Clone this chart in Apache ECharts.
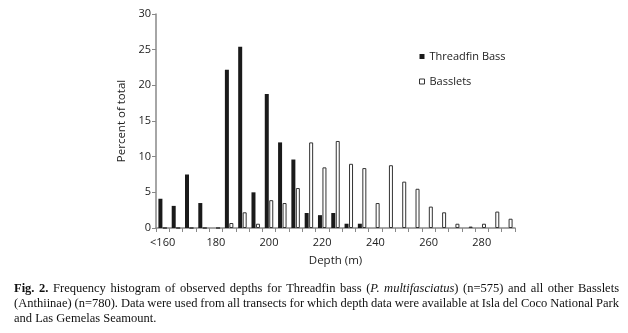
<!DOCTYPE html>
<html>
<head>
<meta charset="utf-8">
<title>Fig. 2 depth histogram</title>
<script src="https://cdn.jsdelivr.net/npm/echarts@6/dist/echarts.min.js"></script>
<style>
    html, body { margin: 0; padding: 0; background: #fff; }
    #canvas { width: 628px; height: 333px; }
</style>
</head>
<body>
<div id="canvas"></div>
<script type="text/javascript">
    // depth bins (5 m), label shown every 4th bin
    var depths = ['<160', '165', '170', '175', '180', '185', '190', '195', '200', '205', '210', '215', '220', '225',
                  '230', '235', '240', '245', '250', '255', '260', '265', '270', '275', '280', '285', '290'];
    // percent of total per bin
    var threadfin = [4.1, 3.1, 7.5, 3.5, 0, 22.2, 25.4, 5.0, 18.8, 12.0, 9.6, 2.1, 1.8, 2.1,
                     0.6, 0.6, 0, 0, 0, 0, 0, 0, 0, 0, 0, 0, 0];
    var basslets = [0, 0, 0, 0, 0, 0.7, 2.2, 0.6, 3.9, 3.5, 5.6, 12.0, 8.5, 12.2,
                    9.0, 8.4, 3.5, 8.8, 6.5, 5.5, 3.0, 2.2, 0.6, 0.2, 0.6, 2.3, 1.3];
    var yTicks = { min: 0, max: 30, interval: 5 };

    var sans = '"Open Sans", "Noto Sans", sans-serif';
    var serif = '"Liberation Serif", "DejaVu Serif", serif';

    // caption lines, first two justified like the printed figure
    // a piece that does not start with a space sticks to the previous word
    var captionLines = [
        [['Fig. 2.', 'bold'], [' Frequency histogram of observed depths for Threadfin bass (', 'normal'],
         ['P. multifasciatus', 'italic'], [') (n=575) and all other Basslets', 'normal']],
        [['(Anthiinae) (n=780). Data were used from all transects for which depth data were available at Isla del Coco National Park', 'normal']],
        [['and Las Gemelas Seamount.', 'normal']]
    ];

    var Dom = document.querySelector('#canvas');
    var myChart = echarts.init(Dom);

    function captionFont(s, size) {
        return (s === 'italic' ? 'italic ' : '') + (s === 'bold' ? 'bold ' : '') + size + 'px ' + serif;
    }

    // lay caption out word by word so lines 1-2 can be justified
    function buildCaption() {
        var ctx = document.createElement('canvas').getContext('2d');
        var fontSize = 12.5, left = 14, right = 619, top0 = 289, lineH = 15;
        var els = [];
        captionLines.forEach(function (parts, li) {
            var groups = [];
            parts.forEach(function (p) {
                var chunks = p[0].split(' ');
                chunks.forEach(function (c, ci) {
                    if (c === '') return;
                    var w = { t: c, s: p[1] };
                    if (ci === 0 && groups.length) groups[groups.length - 1].push(w);
                    else groups.push([w]);
                });
            });
            var widths = groups.map(function (g) {
                return g.reduce(function (a, w) {
                    ctx.font = captionFont(w.s, fontSize);
                    return a + ctx.measureText(w.t).width;
                }, 0);
            });
            ctx.font = captionFont('normal', fontSize);
            var gap = ctx.measureText(' ').width;
            var total = widths.reduce(function (a, b) { return a + b; }, 0);
            if (li < 2 && groups.length > 1) gap = (right - left - total) / (groups.length - 1);
            var x = left;
            groups.forEach(function (g, gi) {
                var gx = x;
                g.forEach(function (w) {
                    els.push({
                        type: 'text', left: gx, top: top0 + li * lineH - fontSize * 0.55,
                        style: {
                            text: w.t, fill: '#111', fontFamily: serif, fontSize: fontSize,
                            fontStyle: w.s === 'italic' ? 'italic' : 'normal',
                            fontWeight: w.s === 'bold' ? 'bold' : 'normal'
                        }
                    });
                    ctx.font = captionFont(w.s, fontSize);
                    gx += ctx.measureText(w.t).width;
                });
                x += widths[gi] + gap;
            });
        });
        return els;
    }

    var option = {
        animation: false,
        textStyle: { fontFamily: sans },
        grid: { left: 156, right: 113, top: 14, bottom: 105 },
        legend: {
            orient: 'vertical',
            left: 414,
            top: 46,
            itemWidth: 5,
            itemHeight: 5,
            itemGap: 14,
            itemTextGap: -2,
            textStyle: { fontSize: 11, color: '#222', fontFamily: sans },
            data: [
                { name: 'Threadfin Bass', icon: 'rect', itemStyle: { color: '#1a1a1a', borderWidth: 0 } },
                { name: 'Basslets', icon: 'rect', itemStyle: { color: '#fff', borderColor: '#333', borderWidth: 1 } }
            ]
        },
        xAxis: {
            type: 'category',
            data: depths,
            name: 'Depth (m)',
            nameLocation: 'middle',
            nameGap: 27,
            nameTextStyle: { fontSize: 11.5, color: '#222' },
            axisLine: { lineStyle: { color: '#888', width: 1.5 } },
            axisTick: { show: true, interval: 0, length: 4, lineStyle: { color: '#888' } },
            axisLabel: { interval: 3, fontSize: 11, color: '#222', margin: 9 }
        },
        yAxis: {
            type: 'value',
            min: yTicks.min,
            max: yTicks.max,
            interval: yTicks.interval,
            name: 'Percent of total',
            nameLocation: 'middle',
            nameGap: 23,
            nameTextStyle: { fontSize: 11.5, color: '#222' },
            splitLine: { show: false },
            axisLine: { show: true, lineStyle: { color: '#888', width: 1.5 } },
            axisTick: { show: true, length: 4, lineStyle: { color: '#888' } },
            axisLabel: { fontSize: 11, color: '#222', margin: 5 }
        },
        series: [
            {
                name: 'Threadfin Bass',
                type: 'bar',
                data: threadfin,
                barWidth: 4,
                barGap: '12%',
                itemStyle: { color: '#1a1a1a' }
            },
            {
                name: 'Basslets',
                type: 'bar',
                data: basslets,
                barWidth: 4,
                itemStyle: { color: '#fff', borderColor: '#333', borderWidth: 1 }
            }
        ],
        graphic: buildCaption()
    };
    myChart.setOption(option);
</script>
</body>
</html>
